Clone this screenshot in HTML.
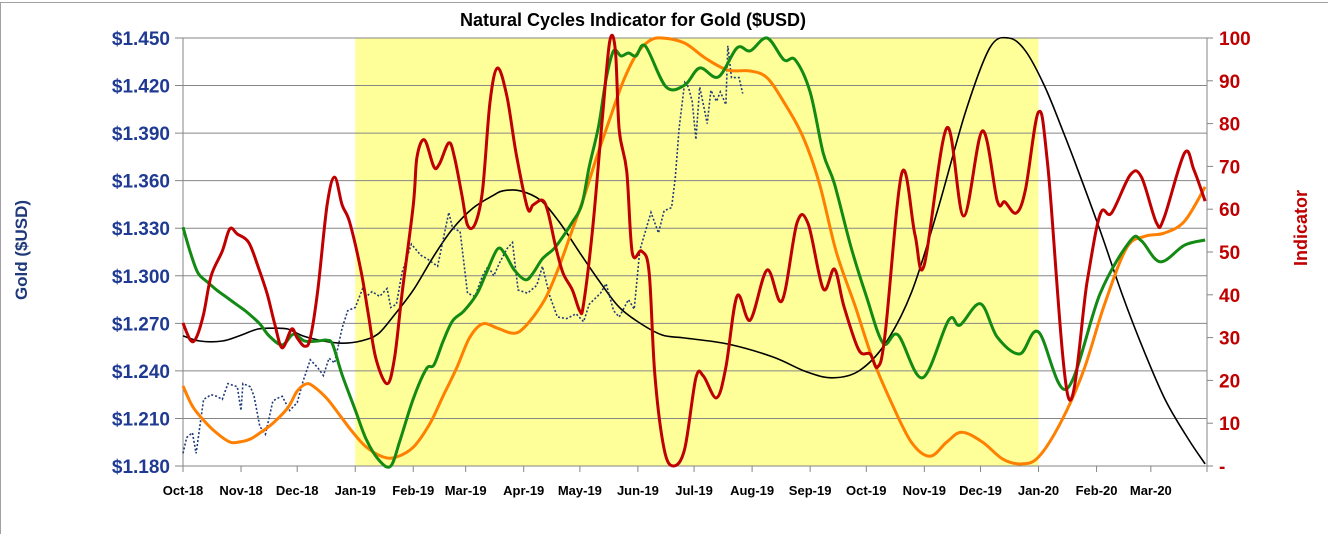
<!DOCTYPE html>
<html><head><meta charset="utf-8"><style>
html,body{margin:0;padding:0;background:#fff;}
svg{display:block;font-family:"Liberation Sans",sans-serif;}
</style></head><body>
<svg id="chart" width="1328" height="534" viewBox="0 0 1328 534">
<rect x="0.5" y="2.5" width="1340" height="540" fill="#fff" stroke="#a0a0a0"/>
<text x="633" y="26" text-anchor="middle" font-size="18" font-weight="bold" fill="#000">Natural Cycles Indicator for Gold ($USD)</text>
<g id="plot"></g>
<text transform="translate(27,250) rotate(-90)" text-anchor="middle" font-size="17" font-weight="bold" fill="#1F3A7A">Gold ($USD)</text>
<text transform="translate(1307,228) rotate(-90)" text-anchor="middle" font-size="18" font-weight="bold" fill="#C00000">Indicator</text>
</svg>
<script>
const monthLabels=["Oct-18","Nov-18","Dec-18","Jan-19","Feb-19","Mar-19","Apr-19","May-19","Jun-19","Jul-19","Aug-19","Sep-19","Oct-19","Nov-19","Dec-19","Jan-20","Feb-20","Mar-20"];
const monthDays=[0,31,61,92,123,151,182,212,243,273,304,335,365,396,426,457,488,517,547];
const goldTicks=[1.180,1.210,1.240,1.270,1.300,1.330,1.360,1.390,1.420,1.450];
const indTicks=[0,10,20,30,40,50,60,70,80,90,100];
const shadeRange=[92,457];

const redDays=[0,4,7,11,15,21,25,29,35,40,45,49,53,58,61,65,68,72,77,81,85,89,95,99,103,109,113,117,123,125,129,134,137,142,145,149,152,156,160,164,168,173,178,184,187,192,195,199,203,208,212,214,219,224,228,231,233,237,240,245,249,252,257,262,268,274,278,285,290,296,303,312,320,328,334,342,348,353,361,367,371,375,384,391,396,408,417,427,435,439,445,450,457,462,473,483,490,496,506,512,520,524,535,540,546];
const redVals=[33.4,29.4,29.9,35.5,44.4,50.2,55.4,54.2,52.3,46.7,40.2,33.2,27.6,32.0,29.9,28.0,29.9,41.1,61.0,67.5,61.0,57.0,45.8,35.5,25.2,19.2,25.2,40.2,61.0,72.2,76.2,69.9,70.6,75.5,72.2,63.3,56.3,56.5,64.3,85.0,93.0,86.4,72.9,60.3,61.0,62.1,59.3,51.4,45.1,41.1,36.2,37.9,56.3,81.1,99.3,97.0,78.5,68.9,49.8,50.2,45.3,21.5,4.0,0,4.0,20.6,21.0,15.9,23.1,39.7,34.1,45.8,38.6,56.8,56.5,41.4,46.0,37.4,27.1,26.2,23.1,30.6,68.5,54.0,47.0,79.0,58.4,78.3,61.9,61.7,59.1,64.5,82.7,69.9,15.9,43.2,58.9,59.1,68.0,67.5,56.8,57.9,73.1,69.2,61.9];

const greenDays=[0,4,8,13,18,23,29,34,41,46,53,59,65,72,77,80,85,92,98,105,111,116,123,130,134,139,144,150,157,162,168,172,177,183,187,192,198,202,208,213,217,222,226,230,234,238,242,247,258,268,276,286,296,303,312,321,327,335,342,348,357,365,374,382,395,409,415,426,435,447,457,472,490,506,512,522,535,546];
const greenVals=[55.8,49.8,45.1,43.0,41.1,39.5,37.6,36.0,33.2,30.4,28.3,30.8,29.2,29.2,29.4,28.3,21.3,13.1,6.1,1.2,0,6.1,15.7,22.7,23.6,29.2,33.9,36.2,40.2,45.1,50.7,49.5,45.8,43.5,45.1,48.4,50.7,53.0,57.0,61.0,69.9,79.4,90.4,97.0,95.8,96.5,95.8,98.1,88.6,89.0,93.0,90.9,97.7,97.0,100,94.9,94.9,87.4,73.1,65.9,50.9,39.7,28.7,30.6,20.6,34.1,32.9,37.9,30.1,26.2,31.3,18.0,40.4,52.6,52.6,47.7,51.6,52.8];

const orangeDays=[0,5,11,18,25,30,36,41,48,56,61,66,70,77,84,91,98,107,114,123,132,139,146,153,160,168,175,180,187,194,201,207,214,221,228,235,242,249,256,268,279,291,303,312,321,331,340,349,359,368,378,389,399,408,416,427,438,448,457,469,481,492,504,514,524,535,546];
const orangeVals=[18.7,14.0,10.7,7.7,5.6,5.6,6.3,7.7,10.0,13.6,17.5,19.2,18.5,15.7,11.7,7.7,4.4,2.1,2.1,4.4,10.0,16.4,22.7,29.9,33.2,32.2,31.1,31.5,34.8,39.5,46.7,54.0,62.6,72.2,81.1,89.7,96.0,99.3,100,98.8,95.3,92.5,92.3,90.7,85.0,77.1,65.9,50.0,37.4,25.5,15.2,5.6,2.3,5.6,7.9,5.6,1.6,0.5,2.1,10.3,22.2,37.4,50.9,53.7,54.4,57.2,65.2];

const blackDays=[0,9,21,30,40,48,56,64,75,85,95,104,112,123,134,144,155,166,171,180,191,201,212,223,233,244,256,268,291,315,333,347,361,375,389,403,418,431,441,450,460,469,478,490,502,514,525,537,546];
const blackVals=[30.4,29.2,29.2,30.4,32.0,32.2,32.0,30.4,29.2,28.7,29.2,30.8,34.8,41.1,49.1,55.4,60.3,63.3,64.3,64.3,62.1,57.0,49.8,42.8,37.1,33.4,30.6,29.9,28.5,25.5,22.0,20.6,22.2,28.5,40.4,59.6,82.7,97.7,100,97.0,89.0,79.4,69.2,54.9,39.7,26.2,15.2,6.3,0.5];

const goldDays=[0,2,5,7,11,15,18,21,24,29,31,32,36,38,41,44,48,51,53,57,61,64,68,72,75,78,81,85,88,92,96,98,101,105,109,111,114,117,122,127,130,136,139,142,144,148,152,156,160,163,166,169,173,176,179,184,189,192,196,200,205,210,214,217,223,226,230,233,238,241,244,250,254,257,261,263,265,268,270,272,274,276,278,280,282,285,287,290,291,293,297,299];
const goldVals=[1.188,1.198,1.201,1.188,1.222,1.225,1.224,1.222,1.232,1.230,1.215,1.232,1.230,1.224,1.205,1.200,1.221,1.223,1.224,1.215,1.220,1.233,1.247,1.242,1.237,1.248,1.245,1.267,1.278,1.280,1.292,1.287,1.290,1.287,1.292,1.280,1.282,1.302,1.320,1.313,1.311,1.306,1.323,1.340,1.330,1.328,1.289,1.287,1.300,1.306,1.300,1.308,1.317,1.321,1.291,1.289,1.294,1.306,1.287,1.274,1.273,1.276,1.271,1.282,1.289,1.295,1.278,1.274,1.285,1.279,1.316,1.340,1.327,1.341,1.343,1.362,1.393,1.422,1.419,1.410,1.386,1.419,1.408,1.396,1.417,1.410,1.416,1.408,1.445,1.425,1.425,1.415];

const X0=183,X1=1207,Y0=38,Y1=466,DMAX=547;
const xs=d=>X0+(X1-X0)*d/DMAX;
const yInd=v=>Y1-(Y1-Y0)*v/100;
const yGold=g=>Y1-(Y1-Y0)*(g-1.18)/0.27;
const NS="http://www.w3.org/2000/svg";
const plot=document.getElementById('plot');
function mk(tag,attrs,parent){const e=document.createElementNS(NS,tag);for(const k in attrs)e.setAttribute(k,attrs[k]);(parent||plot).appendChild(e);return e;}

const shade=mk('rect',{x:xs(shadeRange[0]),y:Y0,width:xs(shadeRange[1])-xs(shadeRange[0]),height:Y1-Y0,fill:'#FFFF99'});



goldTicks.forEach((g,i)=>{
  const y=yGold(g);
  const gl=mk('line',{x1:X0-8,x2:X1,y1:y,y2:y,stroke:'#868686','stroke-width':1});
  
  
  const t=mk('text',{x:170,y:y+7,'text-anchor':'end','font-size':19,'font-weight':'bold',fill:'#1F3A93'});
  t.textContent='$'+g.toFixed(3);
  
  
});
indTicks.forEach(v=>{
  const y=yInd(v);
  const tk=mk('line',{x1:X1,x2:X1+6,y1:y,y2:y,stroke:'#868686'});
  
  
  const t=mk('text',{x:1219,y:y+7,'text-anchor':'start','font-size':19,'font-weight':'bold',fill:'#C00000'});
  t.textContent=v===0?'-':String(v);
  
  
});
const ax=mk('line',{x1:X0,x2:X0,y1:Y0,y2:Y1,stroke:'#868686'});


const ax2=mk('line',{x1:X1,x2:X1,y1:Y0,y2:Y1,stroke:'#868686'});


monthDays.forEach(d=>{
  const tk=mk('line',{x1:xs(d),x2:xs(d),y1:Y1,y2:Y1+6,stroke:'#868686'});
  
  
});
monthLabels.forEach((m,i)=>{
  const t=mk('text',{x:xs(monthDays[i]),y:495,'text-anchor':'middle','font-size':13,'font-weight':'bold',fill:'#000'});
  t.textContent=m;
  
  
});

function smooth(pts){
  let d='M'+pts[0][0].toFixed(1)+','+pts[0][1].toFixed(1);
  for(let i=0;i<pts.length-1;i++){
    const p0=pts[i-1]||pts[i],p1=pts[i],p2=pts[i+1],p3=pts[i+2]||p2;
    const c1=[p1[0]+(p2[0]-p0[0])/6,p1[1]+(p2[1]-p0[1])/6];
    const c2=[p2[0]-(p3[0]-p1[0])/6,p2[1]-(p3[1]-p1[1])/6];
    d+='C'+c1[0].toFixed(1)+','+c1[1].toFixed(1)+' '+c2[0].toFixed(1)+','+c2[1].toFixed(1)+' '+p2[0].toFixed(1)+','+p2[1].toFixed(1);
  }
  return d;
}
const blk=mk('path',{d:smooth(blackDays.map((d,i)=>[xs(d),yInd(blackVals[i])])),fill:'none',stroke:'#000','stroke-width':1.6});


const gold=mk('polyline',{points:goldDays.map((d,i)=>xs(d).toFixed(1)+','+yGold(goldVals[i]).toFixed(1)).join(' '),fill:'none',stroke:'#1F3A7A','stroke-width':1.6,'stroke-dasharray':'2,2'});


const org=mk('path',{d:smooth(orangeDays.map((d,i)=>[xs(d),yInd(orangeVals[i])])),fill:'none',stroke:'#FF7F00','stroke-width':3});


const grn=mk('path',{d:smooth(greenDays.map((d,i)=>[xs(d),yInd(greenVals[i])])),fill:'none',stroke:'#138A13','stroke-width':3});


const red=mk('path',{d:smooth(redDays.map((d,i)=>[xs(d),yInd(redVals[i])])),fill:'none',stroke:'#C00000','stroke-width':3});


</script>
</body></html>
